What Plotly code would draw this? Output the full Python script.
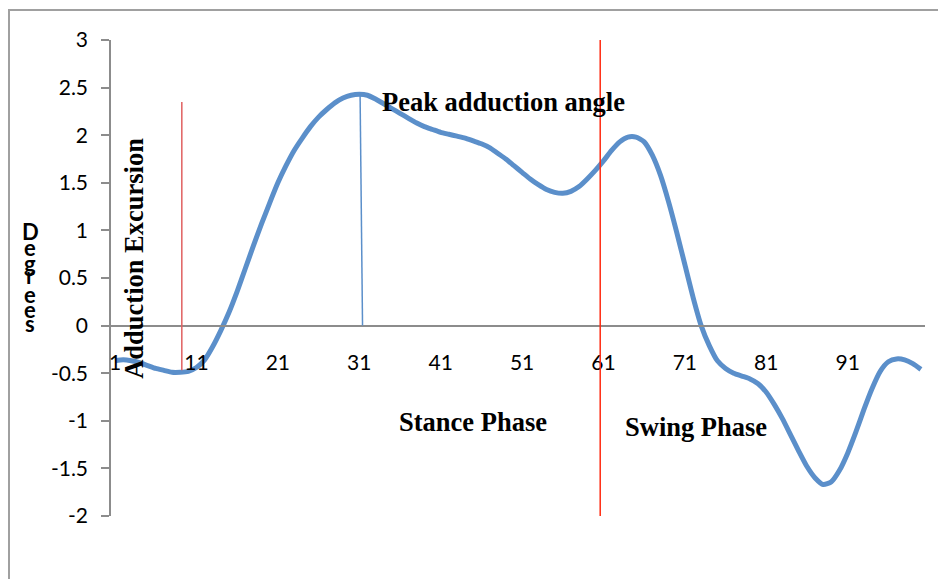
import plotly.graph_objects as go

# gait cycle samples (1..100) and hip adduction in degrees
cycle = list(range(1, 101))
degrees = [
    -0.37, -0.36, -0.37, -0.39, -0.42, -0.45, -0.47, -0.49, -0.49, -0.48,
    -0.44, -0.36, -0.22, -0.05, 0.14, 0.36, 0.60, 0.84, 1.07, 1.29,
    1.50, 1.68, 1.84, 1.97, 2.09, 2.19, 2.27, 2.34, 2.39, 2.42,
    2.43, 2.42, 2.38, 2.33, 2.28, 2.23, 2.18, 2.13, 2.09, 2.06,
    2.03, 2.01, 1.99, 1.97, 1.94, 1.91, 1.87, 1.81, 1.75, 1.68,
    1.61, 1.54, 1.48, 1.43, 1.40, 1.39, 1.41, 1.46, 1.54, 1.63,
    1.73, 1.84, 1.93, 1.98, 1.98, 1.93, 1.79, 1.58, 1.30, 0.98,
    0.64, 0.30, 0.00, -0.21, -0.37, -0.45, -0.50, -0.53, -0.56, -0.61,
    -0.70, -0.83, -0.98, -1.15, -1.32, -1.48, -1.60, -1.67, -1.64, -1.52,
    -1.34, -1.12, -0.88, -0.66, -0.48, -0.38, -0.35, -0.36, -0.40, -0.46,
]
x_ticks = [1, 11, 21, 31, 41, 51, 61, 71, 81, 91]
y_ticks = [-2, -1.5, -1, -0.5, 0, 0.5, 1, 1.5, 2, 2.5, 3]

# marker lines (x0, y0, x1, y1)
excursion_line = (9.2, 2.35, 9.2, -0.47)
peak_line = (31.1, 2.43, 31.4, 0)
toe_off_line = (60.6, 3, 60.6, -2)

W, H = 946, 579
OFF = 8  # page body margin
# plot area on screen: x 111..925, y 40..516
PX0, PX1, PY0, PY1 = 111, 925, 40, 516
L = PX0 - OFF
T = PY0 - OFF
R = W - L - (PX1 - PX0)
B = H - T - (PY1 - PY0)


def paper_x(px):
    return (px - PX0) / (PX1 - PX0)


def paper_y(py):
    return (PY1 - py) / (PY1 - PY0)


fig = go.Figure()
fig.add_trace(go.Scatter(
    x=cycle, y=degrees, mode="lines",
    line=dict(color="#5B8FCA", width=5, shape="spline", smoothing=0.6),
    showlegend=False, hoverinfo="skip"
))

serif = dict(family="Liberation Serif", size=26.5, color="black")

annotations = [
    dict(x=33.6, y=2.35, text="<b>Peak adduction angle</b>", xanchor="left",
         yanchor="middle", showarrow=False, font=serif),
    dict(x=45, y=-1.01, text="<b>Stance Phase</b>", showarrow=False, font=serif),
    dict(x=72.4, y=-1.07, text="<b>Swing Phase</b>", showarrow=False, font=serif),
    dict(x=3.3, y=0.71, text="<b>Adduction Excursion</b>", textangle=-90,
         showarrow=False, font=serif),
]

# stacked letters of the y title, overlapping as in the original
letters = ["D", "e", "g", "r", "e", "e", "s"]
letter_px = [231, 247, 263, 275, 294, 309, 323]
for ch, py_ in zip(letters, letter_px):
    annotations.append(dict(
        xref="paper", yref="paper", xanchor="center", yanchor="middle",
        x=paper_x(30), y=paper_y(py_),
        text="<b>" + ch + "</b>", showarrow=False,
        font=dict(family="Lato", size=22, color="black")
    ))

shapes = []
for (x0, y0, x1, y1), col in [(excursion_line, "#E06060"),
                              (peak_line, "#5B8FCA"),
                              (toe_off_line, "#FF2A10")]:
    shapes.append(dict(type="line", xref="x", yref="y", x0=x0, y0=y0,
                       x1=x1, y1=y1, line=dict(color=col, width=1.5)))

# outer chart border, running off the right and bottom of the picture
shapes.append(dict(
    type="rect", xref="paper", yref="paper",
    x0=paper_x(9), x1=paper_x(W + 30),
    y0=paper_y(H + 30), y1=paper_y(10),
    line=dict(color="#A0A0A0", width=2), fillcolor="rgba(0,0,0,0)", layer="below"
))

tickfont = dict(family="Lato", size=21, color="black")

fig.update_layout(
    width=W, height=H,
    margin=dict(l=L, r=R, t=T, b=B),
    paper_bgcolor="white", plot_bgcolor="white",
    xaxis=dict(
        range=[0.5, 100.5], tickvals=x_ticks, ticktext=[str(v) for v in x_ticks],
        anchor="free", position=0.4, showline=True, linecolor="#8C8C8C",
        linewidth=1.5, ticks="", showgrid=False, zeroline=False,
        tickfont=tickfont, ticklabelstandoff=18
    ),
    yaxis=dict(
        range=[-2, 3], tickvals=y_ticks, ticktext=[("%g" % v) for v in y_ticks],
        showline=True, linecolor="#8C8C8C", linewidth=1.5,
        ticks="outside", ticklen=8, tickcolor="#8C8C8C", tickwidth=1.5,
        showgrid=False, zeroline=False, tickfont=tickfont, ticklabelstandoff=9
    ),
    annotations=annotations,
    shapes=shapes,
)

fig.write_html("out.html")
